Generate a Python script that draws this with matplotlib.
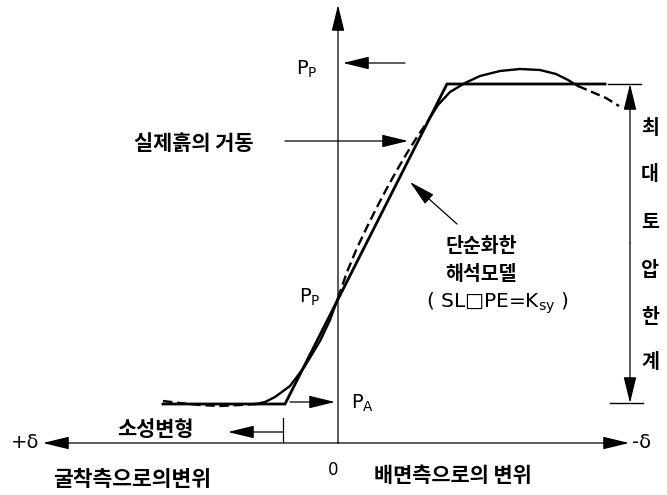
import matplotlib.pyplot as plt

plt.rcParams['font.family'] = ['Noto Sans CJK KR', 'DejaVu Sans']
plt.rcParams['mathtext.fontset'] = 'dejavusans'

# 단순화한 해석모델 (bilinear, drawing coordinates: x right, y down)
model_x = [163, 285, 447, 605]
model_y = [404, 404, 84, 84]

# 실제흙의 거동, split into solid / dashed pieces
real_dash1_x = [163, 180, 200, 220, 240, 256]
real_dash1_y = [401, 403, 405, 406, 405, 404]
real_solid1_x = [256, 265, 275, 290, 305, 320, 330, 338]
real_solid1_y = [404, 402, 397, 386, 366, 341, 320, 298]
real_dash2_x = [338, 347, 357, 367, 377, 387, 397, 407, 417, 428]
real_dash2_y = [298, 272, 248, 227, 207, 188, 170, 153, 137, 121]
real_solid2_x = [428, 438, 450, 465, 480, 500, 520, 540, 556, 568, 578]
real_solid2_y = [121, 105, 92, 83, 76, 71, 69, 70, 74, 80, 86]
real_dash3_x = [578, 592, 606, 619]
real_dash3_y = [86, 92, 98, 106]

vert_label = list('최대토압한계')
vert_label_y = [128, 175, 222, 270, 317, 363]

fig = plt.figure(figsize=(6.67, 4.95), dpi=100)
ax = fig.add_axes([0, 0, 1, 1])
ax.set_xlim(0, 667)
ax.set_ylim(495, 0)
ax.axis('off')

thin = dict(arrowstyle='-|>,head_length=0.9,head_width=0.22', color='black',
            lw=0.9, mutation_scale=18, shrinkA=0, shrinkB=0)

# 좌표축
ax.annotate('', xy=(338, 5), xytext=(338, 443), arrowprops=thin)
ax.annotate('', xy=(43, 443), xytext=(338, 443), arrowprops=thin)
ax.annotate('', xy=(629, 443), xytext=(338, 443), arrowprops=thin)
ax.text(11, 443, '+δ', fontsize=14, va='center', ha='left', family='DejaVu Sans')
ax.text(632, 443, '-δ', fontsize=14, va='center', ha='left', family='DejaVu Sans')
ax.text(333, 470, '0', fontsize=12, va='center', ha='center', family='DejaVu Sans')

# 곡선
ax.plot(model_x, model_y, color='black', lw=2.0, solid_joinstyle='miter')
dash = dict(color='black', lw=1.7, ls=(0, (4, 2)))
ax.plot(real_dash1_x, real_dash1_y, **dash)
ax.plot(real_solid1_x, real_solid1_y, color='black', lw=1.7)
ax.plot(real_dash2_x, real_dash2_y, **dash)
ax.plot(real_solid2_x, real_solid2_y, color='black', lw=1.7)
ax.plot(real_dash3_x, real_dash3_y, **dash)

# 최대토압한계 치수선
ax.plot([608, 641], [84, 84], color='black', lw=1.0)
ax.plot([610, 643], [403, 403], color='black', lw=1.0)
ax.annotate('', xy=(630, 84), xytext=(630, 243), arrowprops=thin)
ax.annotate('', xy=(630, 403), xytext=(630, 243), arrowprops=thin)
for ch, yy in zip(vert_label, vert_label_y):
    ax.text(650, yy, ch, fontsize=14, fontweight='bold', ha='center', va='center')

# 라벨과 화살표
pp = r'P$_\mathregular{P}$'
ax.text(296, 69, pp, fontsize=14, va='center', ha='left', family='DejaVu Sans')
ax.annotate('', xy=(343, 63), xytext=(405, 63), arrowprops=thin)
ax.text(299, 297, pp, fontsize=14, va='center', ha='left', family='DejaVu Sans')
ax.text(351, 403, r'P$_\mathregular{A}$', fontsize=14, va='center', ha='left',
        family='DejaVu Sans')
ax.annotate('', xy=(335, 402), xytext=(290, 402), arrowprops=thin)

ax.text(134, 143, '실제흙의 거동', fontsize=15, fontweight='bold', va='center', ha='left')
ax.annotate('', xy=(408, 141), xytext=(285, 141), arrowprops=thin)

ax.annotate('', xy=(410, 182), xytext=(457, 224), arrowprops=thin)
ax.text(481, 246, '단순화한', fontsize=14, fontweight='bold', va='center', ha='center')
ax.text(481, 275, '해석모델', fontsize=14, fontweight='bold', va='center', ha='center')
ax.text(498, 303, r'( SL□PE=K$_\mathregular{sy}$ )', fontsize=14.5, va='center',
        ha='center', family=['DejaVu Sans', 'Noto Sans CJK KR'])

ax.text(117, 430, '소성변형', fontsize=15, fontweight='bold', va='center', ha='left')
ax.annotate('', xy=(228, 432), xytext=(283, 432), arrowprops=thin)
ax.plot([283, 283], [418, 442], color='black', lw=0.9)

ax.text(53, 479, '굴착측으로의변위', fontsize=15.5, fontweight='bold', va='center', ha='left')
ax.text(374, 476, '배면측으로의 변위', fontsize=15, fontweight='bold', va='center', ha='left')

fig.savefig('out.png', dpi=100)
